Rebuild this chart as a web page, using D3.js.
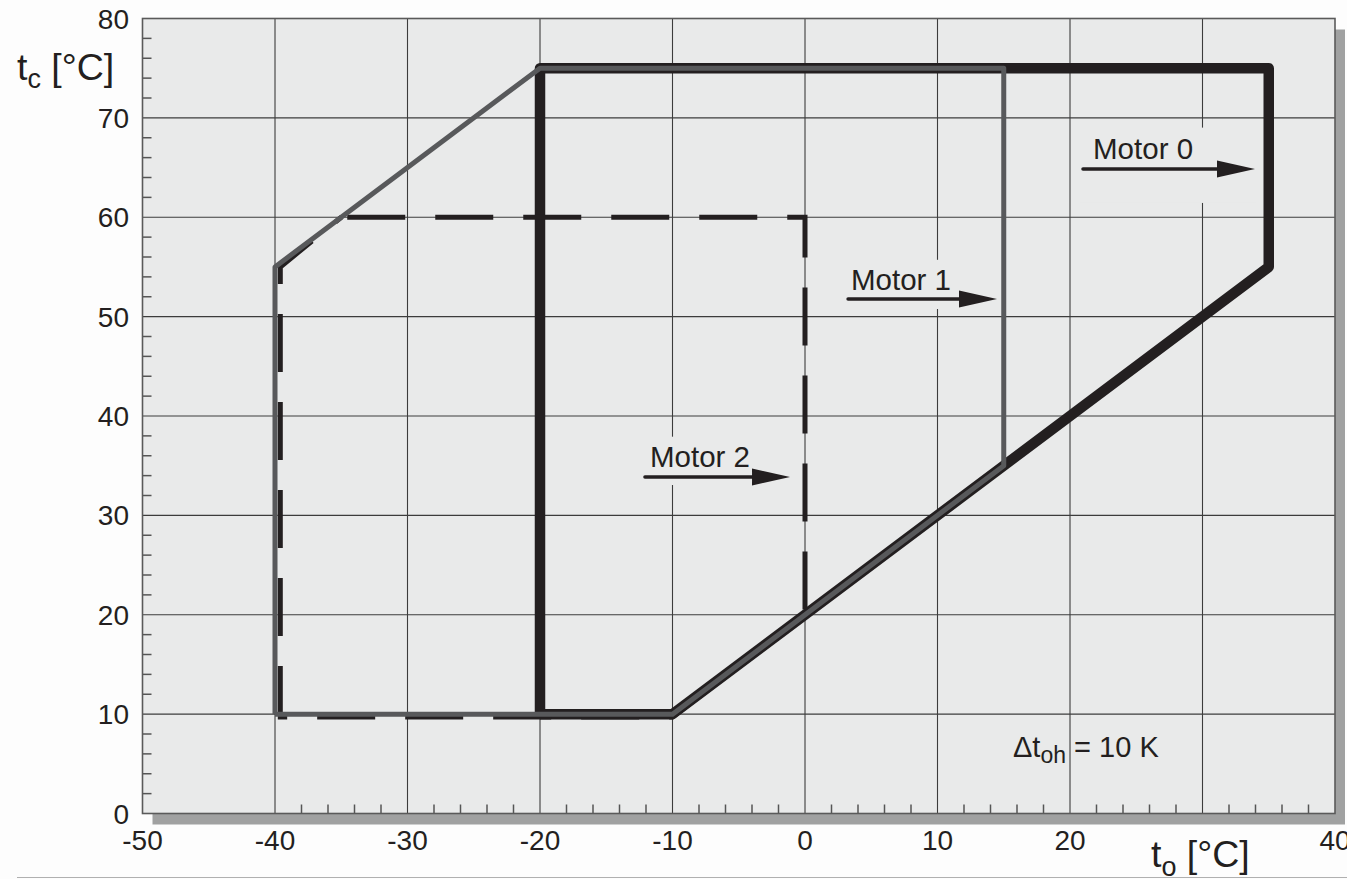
<!DOCTYPE html>
<html>
<head>
<meta charset="utf-8">
<script src="https://cdn.jsdelivr.net/npm/d3@7"></script>
<style>
  html, body { margin: 0; padding: 0; background: #fdfdfd; }
  svg { display: block; font-family: Arial, "Liberation Sans", sans-serif; }
</style>
</head>
<body>
<svg id="chart" width="1347" height="879"></svg>
<script>
// ---- data ----
const xTickValues = [-50, -40, -30, -20, -10, 0, 10, 20, 30, 40];
// the "30" label is hidden behind the axis title in the original
const xTickLabels = ["-50", "-40", "-30", "-20", "-10", "0", "10", "20", "", "40"];
const yTickValues = [0, 10, 20, 30, 40, 50, 60, 70, 80];
const xMinorTicks = [-38, -36, -34, -32, -28, -26, -24, -22, -18, -16, -14, -12, -8, -6, -4, -2,
                     2, 4, 6, 8, 12, 14, 16, 18, 22, 24, 26, 28, 32, 34, 36, 38];
const yMinorTicks = [2, 4, 6, 8, 12, 14, 16, 18, 22, 24, 26, 28, 32, 34, 36, 38, 42, 44, 46, 48,
                     52, 54, 56, 58, 62, 64, 66, 68, 72, 74, 76, 78];

// envelope outlines: [t_o, t_c]
const motor0 = [[-20, 10], [-20, 75], [35, 75], [35, 55], [-10, 10], [-20, 10]];
const motor1 = [[-40, 10], [-40, 55], [-20, 75], [15, 75], [15, 35], [-10, 10], [-40, 10]];
const motor2 = [[-35, 60], [0, 60], [0, 20], [-10, 9.7], [-39.6, 9.7], [-39.6, 55], [-35, 60]];

const labelNames = ["Motor 0", "Motor 1", "Motor 2"];
// label text start [t_o, t_c] and arrow start/end
const labelTextPos = [[21.74, 65.9], [3.47, 52.7], [-11.7, 34.9]];
const arrowFrom = [[20.98, 64.86], [3.25, 51.77], [-12.08, 33.86]];
const arrowTo = [[33.96, 64.86], [14.49, 51.77], [-1.13, 33.86]];

// ---- layout ----
const svg = d3.select("#chart");
const x = d3.scaleLinear().domain([-50, 40]).range([142.5, 1335]);
const y = d3.scaleLinear().domain([0, 80]).range([813.5, 18.5]);
const X0 = x(-50), X1 = x(40), Y0 = y(0), Y1 = y(80);
const ink = "#231f20";

// bottom faint line
svg.append("line").attr("x1", 17).attr("x2", 1347).attr("y1", 877.5).attr("y2", 877.5)
  .attr("stroke", "#b0b0b0").attr("stroke-width", 1.2);

// shadow
svg.append("rect").attr("x", X0 + 10).attr("y", Y1 + 11).attr("width", X1 - X0).attr("height", Y0 - Y1)
  .attr("fill", "#a0a1a1");
// plot face
svg.append("rect").attr("x", X0).attr("y", Y1).attr("width", X1 - X0).attr("height", Y0 - Y1)
  .attr("fill", "#e9eaea");

// grid
const grid = svg.append("g").attr("stroke", "#3c3c3c").attr("stroke-width", 1.1);
grid.selectAll(".vx").data(xTickValues.slice(1, -1)).join("line")
  .attr("x1", d => x(d)).attr("x2", d => x(d)).attr("y1", Y1).attr("y2", Y0);
grid.selectAll(".hy").data(yTickValues.slice(1, -1)).join("line")
  .attr("x1", X0).attr("x2", X1).attr("y1", d => y(d)).attr("y2", d => y(d));

// minor ticks (inward)
const ticks = svg.append("g").attr("stroke", "#555").attr("stroke-width", 1.5);
ticks.selectAll(".mx").data(xMinorTicks).join("line")
  .attr("x1", d => x(d)).attr("x2", d => x(d)).attr("y1", Y0).attr("y2", Y0 - 9);
ticks.selectAll(".my").data(yMinorTicks).join("line")
  .attr("x1", X0).attr("x2", X0 + 9).attr("y1", d => y(d)).attr("y2", d => y(d));

// label backgrounds (interrupt grid lines)
const bgPad = [[31, 34], [30, 10], [30, 8]];
labelNames.forEach((n, i) => {
  const tx = x(labelTextPos[i][0]), ty = y(labelTextPos[i][1]);
  const ax0 = x(arrowFrom[i][0]), ax1 = x(arrowTo[i][0]), ay = y(arrowFrom[i][1]);
  const left = Math.min(tx, ax0) - 3, right = ax1 + 2;
  svg.append("rect").attr("x", left).attr("y", ty - bgPad[i][0])
    .attr("width", right - left).attr("height", (ay + bgPad[i][1]) - (ty - bgPad[i][0]))
    .attr("fill", "#e9eaea");
});

// lines
const line = d3.line().x(d => x(d[0])).y(d => y(d[1]));
svg.append("path").attr("d", line(motor0)).attr("fill", "none")
  .attr("stroke", ink).attr("stroke-width", 10.5).attr("stroke-linejoin", "round");
svg.append("path").attr("d", line(motor2)).attr("fill", "none")
  .attr("stroke", ink).attr("stroke-width", 5)
  .attr("stroke-dasharray", "58,30").attr("stroke-dashoffset", 82);
svg.append("path").attr("d", line(motor1)).attr("fill", "none")
  .attr("stroke", "#58595b").attr("stroke-width", 5).attr("stroke-linejoin", "round");

// plot border
svg.append("rect").attr("x", X0).attr("y", Y1).attr("width", X1 - X0).attr("height", Y0 - Y1)
  .attr("fill", "none").attr("stroke", "#5a5a5a").attr("stroke-width", 1.6);

// labels and arrows
labelNames.forEach((n, i) => {
  svg.append("text").attr("x", x(labelTextPos[i][0])).attr("y", y(labelTextPos[i][1]))
    .attr("font-size", 29.5).attr("fill", ink).text(n);
  const ax0 = x(arrowFrom[i][0]), ax1 = x(arrowTo[i][0]), ay = y(arrowFrom[i][1]);
  svg.append("line").attr("x1", ax0).attr("x2", ax1 - 30).attr("y1", ay).attr("y2", ay)
    .attr("stroke", ink).attr("stroke-width", 3.5).attr("stroke-linecap", "round");
  svg.append("path").attr("d", `M${ax1},${ay} L${ax1 - 38},${ay - 8.5} L${ax1 - 38},${ay + 8.5} Z`)
    .attr("fill", ink);
});

// delta annotation
const dt = svg.append("text").attr("x", 1013).attr("y", 757).attr("font-size", 29).attr("fill", ink);
dt.append("tspan").text("\u0394t");
dt.append("tspan").attr("font-size", 23).attr("dy", 6).text("oh");
dt.append("tspan").attr("dy", -6).text(" = 10 K");

// tick labels
svg.append("g").selectAll("text").data(yTickValues).join("text")
  .attr("x", 129).attr("y", d => y(d) + 10).attr("text-anchor", "end")
  .attr("font-size", 28).attr("fill", ink).text(d => d);
svg.append("g").selectAll("text").data(xTickValues).join("text")
  .attr("x", d => x(d)).attr("y", 850).attr("text-anchor", "middle")
  .attr("font-size", 28).attr("fill", ink).text((d, i) => xTickLabels[i]);

// axis titles
const yt = svg.append("text").attr("x", 17).attr("y", 80).attr("font-size", 37.5).attr("fill", ink);
yt.append("tspan").text("t");
yt.append("tspan").attr("font-size", 27).attr("dy", 8).text("c");
yt.append("tspan").attr("dy", -8).text(" [\u00B0C]");

const xt = svg.append("text").attr("x", 1151).attr("y", 867).attr("font-size", 37.5).attr("fill", ink);
xt.append("tspan").text("t");
xt.append("tspan").attr("font-size", 27).attr("dy", 9).text("o");
xt.append("tspan").attr("dy", -9).text(" [\u00B0C]");
</script>
</body>
</html>
